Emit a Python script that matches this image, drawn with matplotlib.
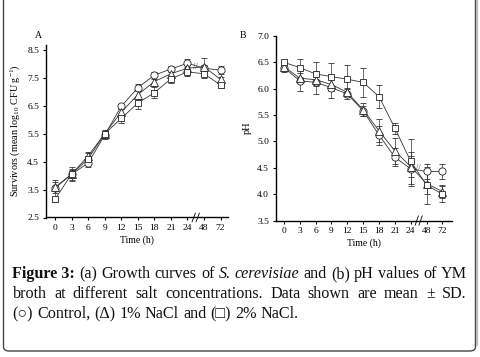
import numpy as np
import matplotlib
matplotlib.use("Agg")
import matplotlib.pyplot as plt
from matplotlib.patches import FancyBboxPatch
from matplotlib.lines import Line2D

# data
hours = ['0', '3', '6', '9', '12', '15', '18', '21', '24', '48', '72']

grow_ctrl = [3.55, 4.05, 4.45, 5.45, 6.48, 7.15, 7.60, 7.82, 8.03, 7.85, 7.78]
grow_ctrl_sd = [0.30, 0.25, 0.15, 0.15, 0.10, 0.12, 0.12, 0.12, 0.15, 0.10, 0.15]
grow_1 = [3.58, 4.05, 4.70, 5.50, 6.27, 6.90, 7.37, 7.65, 7.85, 7.90, 7.45]
grow_1_sd = [0.20, 0.20, 0.15, 0.12, 0.15, 0.15, 0.15, 0.15, 0.12, 0.30, 0.10]
grow_2 = [3.15, 4.05, 4.60, 5.50, 6.05, 6.60, 6.97, 7.47, 7.72, 7.65, 7.25]
grow_2_sd = [0.10, 0.15, 0.20, 0.10, 0.15, 0.20, 0.20, 0.15, 0.15, 0.15, 0.10]

ph_ctrl = [6.40, 6.15, 6.12, 6.02, 5.90, 5.58, 5.12, 4.70, 4.48, 4.43, 4.43]
ph_ctrl_sd = [0.08, 0.20, 0.22, 0.20, 0.10, 0.10, 0.18, 0.17, 0.32, 0.15, 0.15]
ph_1 = [6.42, 6.20, 6.17, 6.08, 5.93, 5.60, 5.20, 4.82, 4.52, 4.20, 4.05]
ph_1_sd = [0.08, 0.10, 0.10, 0.12, 0.08, 0.12, 0.22, 0.25, 0.20, 0.20, 0.12]
ph_2 = [6.50, 6.40, 6.28, 6.23, 6.18, 6.12, 5.85, 5.25, 4.62, 4.17, 4.00]
ph_2_sd = [0.05, 0.17, 0.22, 0.25, 0.27, 0.28, 0.22, 0.10, 0.42, 0.35, 0.15]

serif = ['Liberation Serif', 'DejaVu Serif']
plt.rcParams['font.family'] = serif
plt.rcParams['mathtext.fontset'] = 'custom'
plt.rcParams['mathtext.rm'] = 'Liberation Serif'
plt.rcParams['mathtext.it'] = 'Liberation Serif:italic'

W, H = 480, 357
fig = plt.figure(figsize=(W / 100, H / 100), dpi=100)


def fx(px):
    return px / W


def fy(py):
    return 1 - py / H


pos = np.arange(len(hours))


def panel(rect, series, ylim, yticks, ylabel, ylab_fs):
    ax = fig.add_axes(rect)
    for vals, sd, m, ms in series:
        ax.errorbar(pos, vals, yerr=sd, fmt='-' + m, color='#333333', mfc='white',
                    mec='#222222', ms=ms, mew=0.6, lw=0.6, elinewidth=0.5,
                    capsize=2.2, capthick=0.5, zorder=3)
    ax.set_ylim(*ylim)
    ax.set_yticks(yticks)
    ax.set_yticklabels(['%.1f' % t for t in yticks])
    ax.set_xticks(pos)
    ax.set_xticklabels(hours)
    for s in ['top', 'right']:
        ax.spines[s].set_visible(False)
    for s in ['left', 'bottom']:
        ax.spines[s].set_linewidth(1.0)
    ax.tick_params(labelsize=6.8, length=2, width=0.8, pad=3)
    ax.set_xlabel('Time (h)', fontsize=7, labelpad=2)
    ax.set_ylabel(ylabel, fontsize=ylab_fs, labelpad=4)
    # axis break marks
    tr = ax.get_xaxis_transform()
    for dx in (-0.12, 0.12):
        ax.add_line(Line2D([8.5 + dx - 0.1, 8.5 + dx + 0.1], [-0.025, 0.025],
                           transform=tr, color='k', lw=0.6, clip_on=False))
    return ax


axA = panel([fx(46), fy(217.5), fx(228 - 46), (217.5 - 44.5) / H],
            [(grow_ctrl, grow_ctrl_sd, 'o', 5.2), (grow_1, grow_1_sd, '^', 5.4),
             (grow_2, grow_2_sd, 's', 4.6)],
            (2.5, 8.7), [2.5, 3.5, 4.5, 5.5, 6.5, 7.5, 8.5],
            r'Survivors (mean log$_{10}$ CFU g$^{-1}$)', 7.3)
axA.set_xlim(-0.54, 10.45)
axA.text(8.5, 7.88, '//', fontsize=6, ha='center', va='center', color='#333333')

axB = panel([fx(276), fy(220.5), fx(452 - 276), (220.5 - 36) / H],
            [(ph_ctrl, ph_ctrl_sd, 'o', 5.2), (ph_1, ph_1_sd, '^', 5.4),
             (ph_2, ph_2_sd, 's', 4.6)],
            (3.5, 7.0), [3.5, 4.0, 4.5, 5.0, 5.5, 6.0, 6.5, 7.0], 'pH', 7.5)
axB.set_xlim(-0.5, 10.6)
axB.text(8.5, 4.5, '//', fontsize=6, ha='center', va='center', color='#333333')

fig.text(fx(35), fy(36), 'A', fontsize=7, va='center')
fig.text(fx(240), fy(36), 'B', fontsize=7, va='center')

# outer frame with rounded bottom corners
frame = FancyBboxPatch((fx(3.5), fy(351)), fx(472), 1.2,
                       boxstyle='round,pad=0,rounding_size=0.012',
                       transform=fig.transFigure, fc='none', ec='#444444', lw=1.0)
fig.patches.append(frame)
fig.add_artist(Line2D([fx(476.5), fx(476.5)], [fy(345), 1], transform=fig.transFigure,
                      color='#bbbbbb', lw=1.5))

# caption, justified like the journal text
renderer = fig.canvas.get_renderer()
fs = 11.6
caption = [
    ([('Figure 3:', 'bold'), ('(a)', ''), ('Growth', ''), ('curves', ''), ('of', ''),
      ('S.', 'italic'), ('cerevisiae', 'italic'), ('and', ''), ('(b)', ''), ('pH', ''),
      ('values', ''), ('of', ''), ('YM', '')], True, 278),
    ([(w, '') for w in 'broth at different salt concentrations. Data shown are mean ± SD.'.split()],
     True, 298),
    ([(w, '') for w in '(○) Control, (Δ) 1% NaCl and (□) 2% NaCl.'.split()], False, 318),
]
x0, x1 = 12.5, 467
sp = fig.text(0, 0, 'a a', fontsize=fs)
aa = fig.text(0, 0, 'aa', fontsize=fs)
sw = sp.get_window_extent(renderer).width - aa.get_window_extent(renderer).width
sp.remove()
aa.remove()
for words, justify, base in caption:
    items = []
    for w, st in words:
        t = fig.text(0, fy(base), w, fontsize=fs, va='baseline', color='#111111',
                     fontweight='bold' if st == 'bold' else 'normal',
                     fontstyle='italic' if st == 'italic' else 'normal')
        items.append(t)
    widths = [t.get_window_extent(renderer).width for t in items]
    if justify:
        gap = (x1 - x0 - sum(widths)) / (len(items) - 1)
    else:
        gap = sw
    x = x0
    for t, w in zip(items, widths):
        t.set_x(fx(x))
        x += w + gap

fig.savefig('out.png', dpi=100)
